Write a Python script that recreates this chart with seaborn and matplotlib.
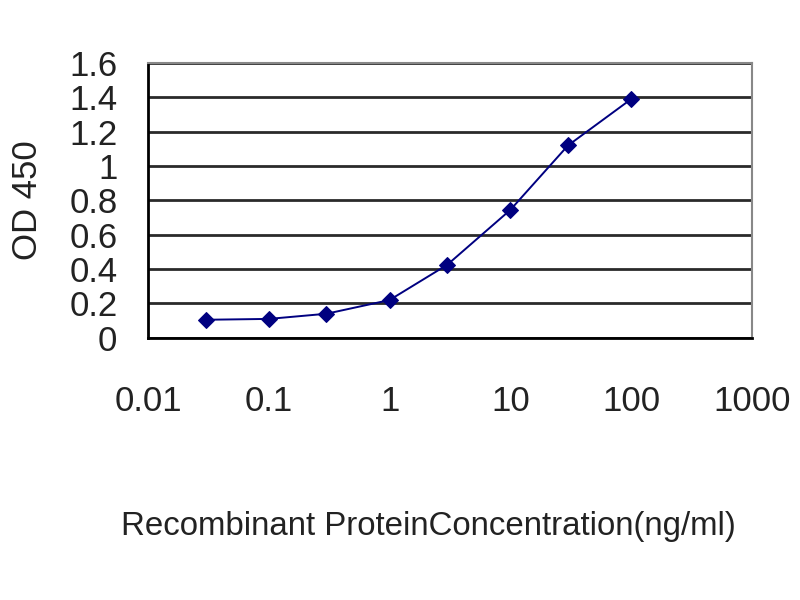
import matplotlib

matplotlib.use("Agg")
import matplotlib.pyplot as plt
import numpy as np
import pandas as pd
import seaborn as sns

# concentration (ng/ml) and measured OD 450
concentration = [0.03, 0.1, 0.3, 1, 3, 10, 30, 100]
od450 = [0.105, 0.11, 0.14, 0.22, 0.425, 0.745, 1.12, 1.39]

x_ticks = [0.01, 0.1, 1, 10, 100, 1000]
x_tick_labels = ["0.01", "0.1", "1", "10", "100", "1000"]
y_ticks = [0, 0.2, 0.4, 0.6, 0.8, 1.0, 1.2, 1.4, 1.6]
y_tick_labels = ["0", "0.2", "0.4", "0.6", "0.8", "1", "1.2", "1.4", "1.6"]

df = pd.DataFrame({"conc": concentration, "od": od450})

sns.set_style("white")
plt.rcParams["font.family"] = ["Liberation Sans", "DejaVu Sans"]

fig = plt.figure(figsize=(8, 6), dpi=100)
ax = fig.add_axes([0.185, 0.437, 0.755, 0.458])

# horizontal grid lines
ax.set_axisbelow(True)
ax.yaxis.grid(True, color="#2a2a2a", linewidth=2)

sns.lineplot(
    data=df,
    x="conc",
    y="od",
    ax=ax,
    color="#000080",
    linewidth=1.4,
    marker="D",
    markersize=8,
    markeredgecolor="#000080",
)

ax.set_xscale("log")
ax.set_xlim(0.01, 1000)
ax.set_ylim(0, 1.6)
ax.set_xticks(x_ticks)
ax.set_xticklabels(x_tick_labels)
ax.xaxis.set_minor_locator(matplotlib.ticker.NullLocator())
ax.set_yticks(y_ticks)
ax.set_yticklabels(y_tick_labels)

ax.tick_params(axis="x", direction="in", length=9, width=1.5, color="black",
               pad=34, labelsize=25, labelcolor="#222222")
ax.tick_params(axis="y", direction="in", length=7, width=1.5, color="black",
               pad=22, labelsize=25, labelcolor="#222222")

for side in ["left", "bottom"]:
    ax.spines[side].set_color("black")
    ax.spines[side].set_linewidth(2)
for side in ["top", "right"]:
    ax.spines[side].set_color("#888888")
    ax.spines[side].set_linewidth(1.5)

ax.set_xlabel("Recombinant ProteinConcentration(ng/ml)", fontsize=23.8,
              color="#222222")
ax.xaxis.set_label_coords(0.464, -0.632)
ax.set_ylabel("OD 450", fontsize=25, color="#222222", labelpad=18)

fig.savefig("out.png", dpi=100)
plt.close(fig)
